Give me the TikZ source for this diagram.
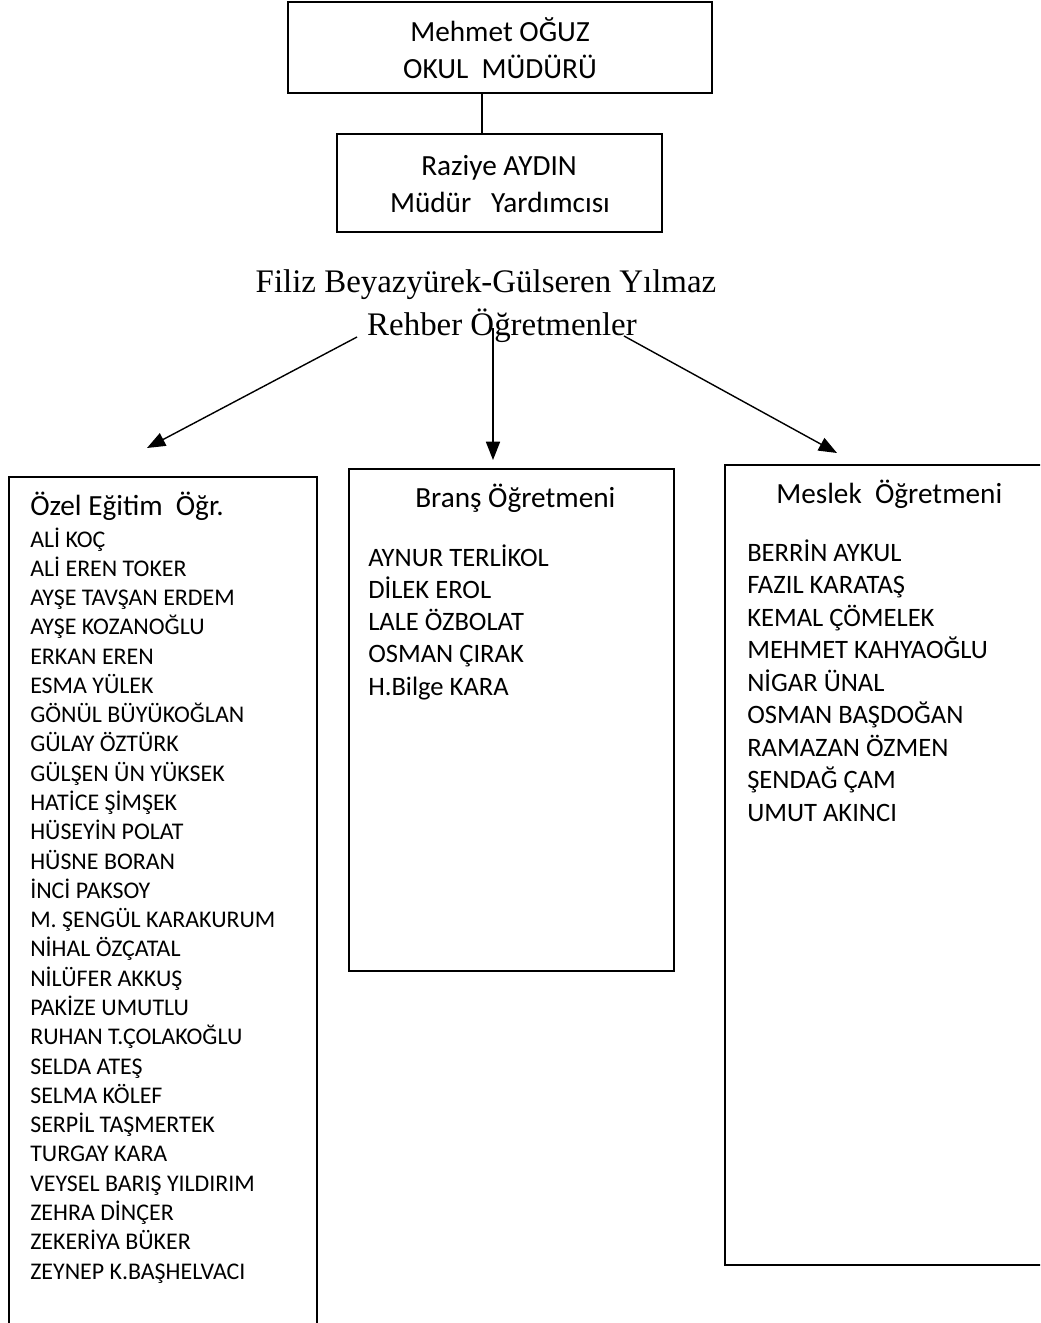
\documentclass[tikz,border=0pt]{standalone}
\usepackage{fontspec}
\setmainfont{Carlito}
\newfontfamily\rehberfont{Liberation Serif}
\usetikzlibrary{arrows.meta,fit}

\tikzset{
  kutu/.style={draw, line width=1pt, inner sep=0pt},
  ust/.style={anchor=base, inner sep=0pt, font=\fontsize{20.8}{25}\selectfont},
  rehberyazi/.style={anchor=base, inner sep=0pt, font=\rehberfont\fontsize{23.4}{28}\selectfont},
  baslik/.style={anchor=base west, inner sep=0pt, font=\fontsize{20.8}{25}\selectfont},
  isim/.style={anchor=base west, inner sep=0pt, font=\fontsize{18.9}{23}\selectfont},
  ok/.style={line width=1pt, -{Triangle[length=13pt,width=10pt]}}
}

\begin{document}
\begin{tikzpicture}[x=0.025cm, y=-0.025cm]
      \useasboundingbox (0,0) rectangle (1040,1323);
      \clip (0,0) rectangle (1040,1323);
      \node[kutu, fit={(288,2) (712,93)}] (mudur) {};
      \node[kutu, fit={(337,134) (662,232)}] (yardimci) {};
      \node[kutu, fit={(9,477) (317,1340)}] (ozel) {};
      \node[kutu, fit={(349,469) (674,971)}] (brans) {};
      \node[kutu, fit={(725,465) (1060,1265)}] (meslek) {};
      \node[ust] (m1) at (500,41) {Mehmet OĞUZ};
      \node[ust] (m2) at (500,78) {OKUL\ \ MÜDÜRÜ};
      \node[ust] (y1) at (499,175) {Raziye AYDIN};
      \node[ust] (y2) at (500,212) {Müdür\ \ \ Yardımcısı};
      \node[rehberyazi] (r1) at (486,292) {Filiz Beyazyürek-Gülseren Yılmaz};
      \node[rehberyazi] (r2) at (502,335) {Rehber Öğretmenler};
      \coordinate (k) at (482,0);
      \draw[line width=1pt] (mudur.south -| k) -- (yardimci.north -| k);
      \coordinate (a1) at (357,337);
      \coordinate (a2) at (493,328);
      \coordinate (a3) at (624,336);
      \coordinate (b1) at (147,448);
      \coordinate (b2) at (493,460);
      \coordinate (b3) at (837,453);
      \draw[ok] (a1) -- (b1);
      \draw[ok] (a2) -- (b2);
      \draw[ok] (a3) -- (b3);
      \node[baslik] (h1) at (30,515) {Özel Eğitim\ \ Öğr.};
      \node[baslik] (h2) at (415,507) {Branş Öğretmeni};
      \node[baslik] (h3) at (776,503) {Meslek\ \ Öğretmeni};
      \foreach \ad [count=\i] in {ALİ KOÇ, ALİ EREN TOKER, AYŞE TAVŞAN ERDEM,
        AYŞE KOZANOĞLU, ERKAN EREN, ESMA YÜLEK, GÖNÜL BÜYÜKOĞLAN, GÜLAY ÖZTÜRK,
        GÜLŞEN ÜN YÜKSEK, HATİCE ŞİMŞEK, HÜSEYİN POLAT, HÜSNE BORAN, İNCİ PAKSOY,
        M. ŞENGÜL KARAKURUM, NİHAL ÖZÇATAL, NİLÜFER AKKUŞ, PAKİZE UMUTLU,
        RUHAN T.ÇOLAKOĞLU, SELDA ATEŞ, SELMA KÖLEF, SERPİL TAŞMERTEK, TURGAY KARA,
        VEYSEL BARIŞ YILDIRIM, ZEHRA DİNÇER, ZEKERİYA BÜKER, ZEYNEP K.BAŞHELVACI}
        \node[isim, font=\fontsize{17}{20}\selectfont] (o\i) at (30,{547+29.28*(\i-1)}) {\ad};
      \foreach \ad [count=\i] in {AYNUR TERLİKOL, DİLEK EROL, LALE ÖZBOLAT,
        OSMAN ÇIRAK, H.Bilge KARA}
        \node[isim] (b\i) at (368,{566+32.3*(\i-1)}) {\ad};
      \foreach \ad [count=\i] in {BERRİN AYKUL, FAZIL KARATAŞ, KEMAL ÇÖMELEK,
        MEHMET KAHYAOĞLU, NİGAR ÜNAL, OSMAN BAŞDOĞAN, RAMAZAN ÖZMEN,
        ŞENDAĞ ÇAM, UMUT AKINCI}
        \node[isim] (s\i) at (747,{561+32.5*(\i-1)}) {\ad};
    \end{tikzpicture}
\end{document}
